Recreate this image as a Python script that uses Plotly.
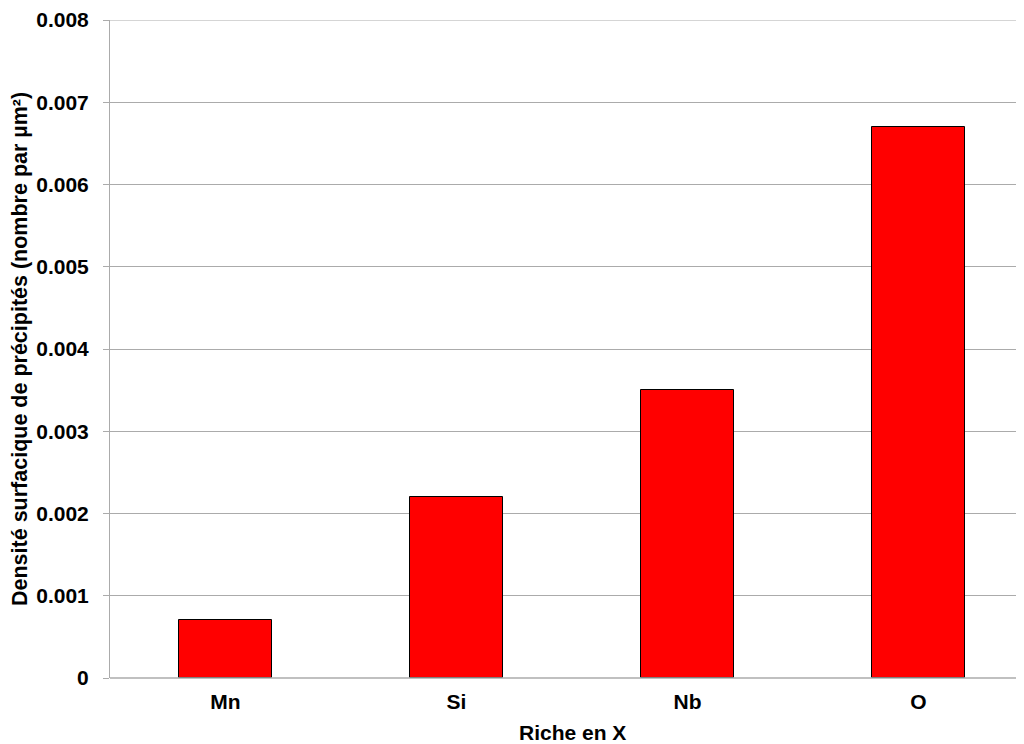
import plotly.graph_objects as go

categories = ["Mn", "Si", "Nb", "O"]
values = [0.0007, 0.0022, 0.0035, 0.0067]
y_ticks = [0, 0.001, 0.002, 0.003, 0.004, 0.005, 0.006, 0.007, 0.008]
y_tick_labels = ["0", "0.001", "0.002", "0.003", "0.004", "0.005", "0.006", "0.007", "0.008"]
x_title = "Riche en X"
y_title = "Densité surfacique de précipités (nombre par µm²)"

# page is offset by the default 8px body margin
OFF = 8
W, H = 1024 - OFF, 744 - OFF
L, R, T, B = 110 - OFF, 0, 18 - OFF, 744 - 678
pw = W - L - R
ph = H - T - B
cat_px = 231.0
GRID = "#ababab"

FONT = "Liberation Sans, Arial, sans-serif"

fig = go.Figure()
fig.add_trace(go.Bar(
    x=list(range(len(categories))), y=values, width=0.4,
    marker=dict(color="#FF0000", line=dict(color="#000000", width=1)),
    showlegend=False, hoverinfo="skip",
))

fig.update_layout(
    width=W, height=H,
    margin=dict(l=L, r=R, t=T, b=B, pad=0),
    paper_bgcolor="white", plot_bgcolor="white",
    font=dict(family=FONT, size=21, color="black"),
    bargap=0,
    xaxis=dict(
        range=[-0.5, -0.5 + pw / cat_px],
        tickvals=list(range(len(categories))), ticktext=[f"<b>{c}</b>" for c in categories],
        showgrid=False, zeroline=False, showline=False, ticks="",
        tickfont=dict(family=FONT, size=21, color="black"),
        ticklabelstandoff=9,
        fixedrange=True,
    ),
    yaxis=dict(
        range=[0, max(y_ticks)],
        tickvals=y_ticks, ticktext=[f"<b>{t}</b>" for t in y_tick_labels],
        showgrid=True, gridcolor=GRID, gridwidth=1,
        zeroline=False,
        showline=True, linecolor=GRID, linewidth=1,
        ticks="outside", ticklen=6, tickcolor=GRID, tickwidth=1,
        tickfont=dict(family=FONT, size=21, color="black"),
        ticklabelstandoff=10,
        ticklabeloverflow="allow",
        fixedrange=True,
    ),
    shapes=[
        dict(type="line", xref="paper", yref="paper", x0=0, x1=1, y0=0, y1=0,
             line=dict(color=GRID, width=1.5)),
        dict(type="line", xref="paper", yref="y", x0=0, x1=1, y0=max(y_ticks), y1=max(y_ticks),
             line=dict(color=GRID, width=1)),
    ],
    annotations=[
        dict(text=f"<b>{x_title}</b>", xref="paper", yref="paper",
             x=(572 - 110) / pw, y=-(733 - 678) / ph, xanchor="center", yanchor="middle",
             showarrow=False, font=dict(family=FONT, size=21, color="black")),
        dict(text=f"<b>{y_title}</b>", xref="paper", yref="paper",
             x=(20 - 110) / pw, y=0.5, xanchor="center", yanchor="middle", textangle=-90,
             showarrow=False, font=dict(family=FONT, size=21.5, color="black")),
    ],
)

fig.write_html("out.html")
